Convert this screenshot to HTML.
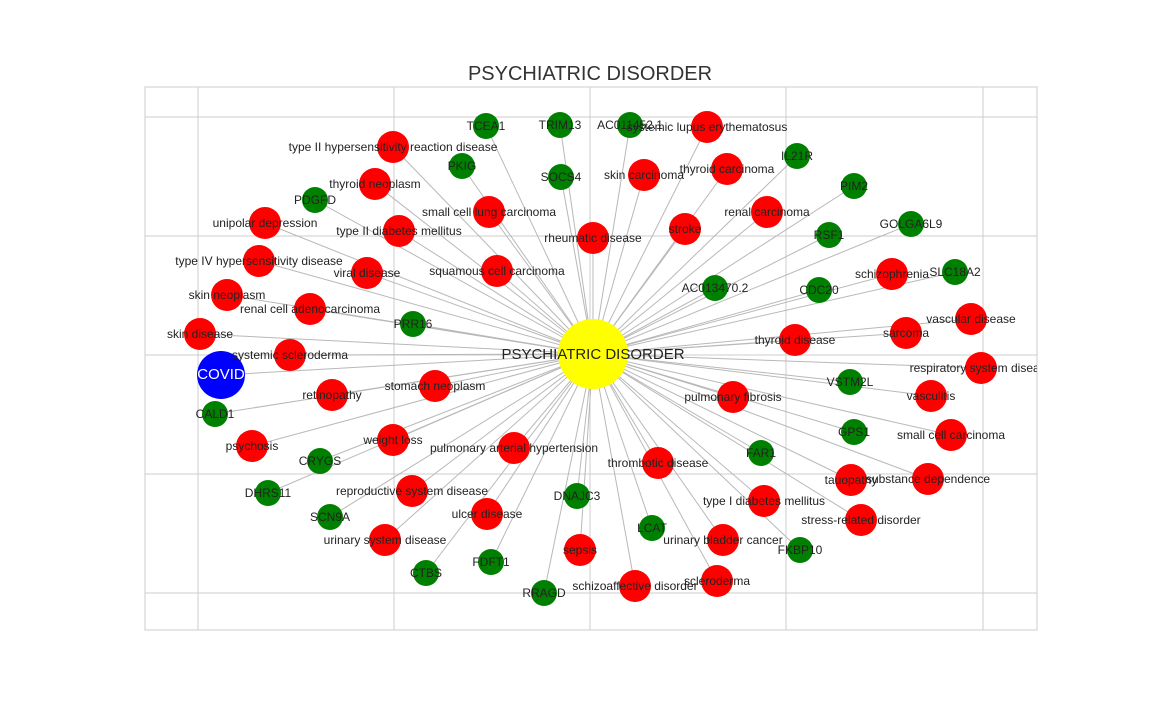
<!DOCTYPE html>
<html><head><meta charset="utf-8"><style>
body{margin:0;background:#fff;}
svg text{font-family:"Liberation Sans",sans-serif;}
</style></head><body>
<svg id="chart" width="1152" height="720" xmlns="http://www.w3.org/2000/svg">
<defs><clipPath id="plotclip"><rect x="145" y="87" width="892" height="543"/></clipPath></defs>
<rect x="145" y="87" width="892" height="543" fill="#fff" stroke="#ccc" stroke-width="1"/>
<g id="grid"></g>
<text x="590" y="80" text-anchor="middle" font-size="20" fill="#333">PSYCHIATRIC DISORDER</text>
<g id="edges" clip-path="url(#plotclip)"></g>
<g id="nodes" clip-path="url(#plotclip)"></g>
<g id="labels" clip-path="url(#plotclip)"></g>
</svg>
<script>
const gridX = [198, 394, 590, 786, 983];
const gridY = [117, 236, 355, 474, 593];
const center = ["PSYCHIATRIC DISORDER", 593, 354];
const nodeLabels = ["TCEA1","TRIM13","AC011452.1","systemic lupus erythematosus","type II hypersensitivity reaction disease","PKIG","SOCS4","skin carcinoma","thyroid carcinoma","IL21R","PIM2","thyroid neoplasm","PDGFD","small cell lung carcinoma","unipolar depression","type II diabetes mellitus","rheumatic disease","stroke","renal carcinoma","RSF1","GOLGA6L9","type IV hypersensitivity disease","viral disease","squamous cell carcinoma","AC013470.2","CDC20","schizophrenia","SLC18A2","skin neoplasm","renal cell adenocarcinoma","vascular disease","PRR16","skin disease","sarcoma","thyroid disease","systemic scleroderma","COVID","respiratory system disease","VSTM2L","retinopathy","stomach neoplasm","vasculitis","pulmonary fibrosis","CALD1","small cell carcinoma","GPS1","psychosis","weight loss","pulmonary arterial hypertension","CRYGS","FAR1","thrombotic disease","tauopathy","substance dependence","DHRS11","reproductive system disease","DNAJC3","type I diabetes mellitus","SCN9A","ulcer disease","stress-related disorder","LCAT","urinary system disease","urinary bladder cancer","FKBP10","sepsis","FDFT1","CTBS","schizoaffective disorder","scleroderma","RRAGD"];
const nodeX = [486,560,630,707,393,462,561,644,727,797,854,375,315,489,265,399,593,685,767,829,911,259,367,497,715,819,892,955,227,310,971,413,200,906,795,290,221,981,850,332,435,931,733,215,951,854,252,393,514,320,761,658,851,928,268,412,577,764,330,487,861,652,385,723,800,580,491,426,635,717,544];
const nodeY = [126,125,125,127,147,166,177,175,169,156,186,184,200,212,223,231,238,229,212,235,224,261,273,271,288,290,274,272,295,309,319,324,334,333,340,355,375,368,382,395,386,396,397,414,435,432,446,440,448,461,453,463,480,479,493,491,496,501,517,514,520,528,540,540,550,550,562,573,586,581,593];
const nodeType = ["g","g","g","r","r","g","g","r","r","g","g","r","g","r","r","r","r","r","r","g","g","r","r","r","g","g","r","g","r","r","r","g","r","r","r","r","b","r","g","r","r","r","r","g","r","g","r","r","r","g","g","r","r","r","g","r","g","r","g","r","r","g","r","r","g","r","g","g","r","r","g"];
const NS="http://www.w3.org/2000/svg";
const colors={r:"#ff0000",g:"#008000",b:"#0000ff"};
const radii={r:16,g:13,b:24};
function mk(t,a){const e=document.createElementNS(NS,t);for(const k in a)e.setAttribute(k,a[k]);return e;}
const grid=document.getElementById('grid');
gridX.forEach(x=>{const l=mk('line',{x1:x,x2:x,y1:87,y2:630,stroke:'#ccc','stroke-width':1});

grid.appendChild(l);});
gridY.forEach(y=>{const l=mk('line',{x1:145,x2:1037,y1:y,y2:y,stroke:'#ccc','stroke-width':1});

grid.appendChild(l);});
const eg=document.getElementById('edges'),ng=document.getElementById('nodes'),lg=document.getElementById('labels');
nodeLabels.forEach((lab,i)=>{
 const l=mk('line',{x1:center[1],y1:center[2],x2:nodeX[i],y2:nodeY[i],stroke:'#b8b8b8','stroke-width':1});
 
 eg.appendChild(l);
});
nodeLabels.forEach((lab,i)=>{
 const t=nodeType[i];
 const c=mk('circle',{cx:nodeX[i],cy:nodeY[i],r:radii[t],fill:colors[t]});
 
 ng.appendChild(c);
 const tx=mk('text',{x:nodeX[i],y:nodeY[i]+4,'text-anchor':'middle','font-size':t==='b'?15:12,fill:t==='b'?'#fff':'#222'});
 tx.textContent=lab;
 
 lg.appendChild(tx);
});
const cc=mk('circle',{cx:center[1],cy:center[2],r:35,fill:'#ffff00'});

ng.appendChild(cc);
const ct=mk('text',{x:center[1],y:center[2]+5,'text-anchor':'middle','font-size':15,fill:'#222'});
ct.textContent=center[0];

lg.appendChild(ct);
</script>
</body></html>
